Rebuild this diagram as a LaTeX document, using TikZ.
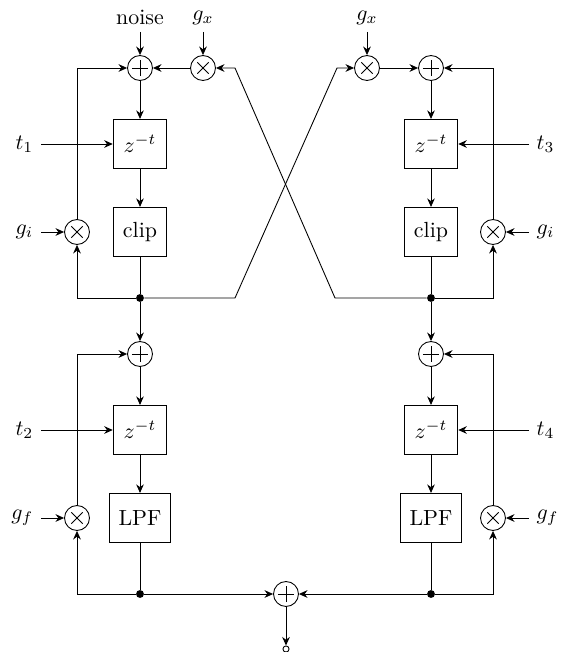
\documentclass[tikz,border=0pt]{standalone}
\usetikzlibrary{arrows.meta}
\begin{document}
\begin{tikzpicture}[x=0.4566pt,y=-0.4566pt,
  >={Stealth[length=3.9pt,width=3.5pt]},
  blk/.style={draw, minimum width=24.5pt, minimum height=22.5pt, inner sep=4pt},
  sumn/.style={draw, circle, minimum size=11.4pt, inner sep=0pt,
    path picture={
      \draw ([xshift=-3.7pt]path picture bounding box.center) -- ([xshift=3.7pt]path picture bounding box.center);
      \draw ([yshift=-3.7pt]path picture bounding box.center) -- ([yshift=3.7pt]path picture bounding box.center);}},
  muln/.style={draw, circle, minimum size=11.4pt, inner sep=0pt,
    path picture={
      \draw ([shift={(-2.6pt,-2.6pt)}]path picture bounding box.center) -- ([shift={(2.6pt,2.6pt)}]path picture bounding box.center);
      \draw ([shift={(-2.6pt,2.6pt)}]path picture bounding box.center) -- ([shift={(2.6pt,-2.6pt)}]path picture bounding box.center);}},
  jdot/.style={circle, fill, inner sep=0pt, minimum size=3.6pt},
  lbl/.style={inner sep=3.33pt}]
\useasboundingbox (0,0) rectangle (562,652);

% ---- upper left
\node[sumn] (a1) at (140,68) {};
\node[muln] (m1) at (203,68) {};
\node[blk] (z1) at (140,144) {$z^{-t}$};
\node[blk] (c1) at (140,232) {clip};
\node[muln] (gi1m) at (77,232) {};
\node[jdot] (d1) at (140,298) {};
% ---- upper right
\node[muln] (m2) at (367,68) {};
\node[sumn] (a2) at (431,68) {};
\node[blk] (z2) at (431,144) {$z^{-t}$};
\node[blk] (c2) at (431,232) {clip};
\node[muln] (gi2m) at (493,232) {};
\node[jdot] (d2) at (431,298) {};
% ---- crossing corners
\coordinate (p1) at (235,298);
\coordinate (p2) at (337,68);
\coordinate (p3) at (335,298);
\coordinate (p4) at (235,68);
% ---- lower left
\node[sumn] (a3) at (140,354) {};
\node[blk] (z3) at (140,430) {$z^{-t}$};
\node[blk] (l1) at (140,518) {LPF};
\node[muln] (gf1m) at (77,518) {};
\node[jdot] (d3) at (140,594) {};
% ---- lower right
\node[sumn] (a4) at (431,354) {};
\node[blk] (z4) at (431,430) {$z^{-t}$};
\node[blk] (l2) at (431,518) {LPF};
\node[muln] (gf2m) at (493,518) {};
\node[jdot] (d4) at (431,594) {};
% ---- output
\node[sumn] (a5) at (286,594) {};
\node[draw, circle, inner sep=0pt, minimum size=2.8pt] (out) at (286,649) {};

% ---- labels
\node[lbl, anchor=south] (noise) at (140,32) {noise};
\node[lbl, anchor=south] (gx1) at (203,32) {$g_x$};
\node[lbl, anchor=south] (gx2) at (367,32) {$g_x$};
\node[lbl, anchor=east] (t1) at (41,144) {$t_1$};
\node[lbl, anchor=east] (gil) at (41,232) {$g_i$};
\node[lbl, anchor=west] (t3) at (529,144) {$t_3$};
\node[lbl, anchor=west] (gir) at (529,232) {$g_i$};
\node[lbl, anchor=east] (t2) at (41,430) {$t_2$};
\node[lbl, anchor=east] (gfl) at (41,518) {$g_f$};
\node[lbl, anchor=west] (t4) at (529,430) {$t_4$};
\node[lbl, anchor=west] (gfr) at (529,518) {$g_f$};

% ---- upper left connections
\draw[->] (noise) -- (a1);
\draw[->] (gx1) -- (m1);
\draw[->] (m1) -- (a1);
\draw[->] (a1) -- (z1);
\draw[->] (z1) -- (c1);
\draw (c1) -- (d1);
\draw[->] (d1) -| (gi1m);
\draw[->] (gi1m) |- (a1);
\draw[->] (t1) -- (z1);
\draw[->] (gil) -- (gi1m);
% ---- upper right connections
\draw[->] (gx2) -- (m2);
\draw[->] (m2) -- (a2);
\draw[->] (a2) -- (z2);
\draw[->] (z2) -- (c2);
\draw (c2) -- (d2);
\draw[->] (d2) -| (gi2m);
\draw[->] (gi2m) |- (a2);
\draw[->] (t3) -- (z2);
\draw[->] (gir) -- (gi2m);
% ---- crossing
\draw[->] (d1) -- (p1) -- (p2) -- (m2);
\draw[->] (d2) -- (p3) -- (p4) -- (m1);
% ---- to lower stages
\draw[->] (d1) -- (a3);
\draw[->] (d2) -- (a4);
% ---- lower left
\draw[->] (a3) -- (z3);
\draw[->] (z3) -- (l1);
\draw (l1) -- (d3);
\draw[->] (d3) -| (gf1m);
\draw[->] (gf1m) |- (a3);
\draw[->] (t2) -- (z3);
\draw[->] (gfl) -- (gf1m);
% ---- lower right
\draw[->] (a4) -- (z4);
\draw[->] (z4) -- (l2);
\draw (l2) -- (d4);
\draw[->] (d4) -| (gf2m);
\draw[->] (gf2m) |- (a4);
\draw[->] (t4) -- (z4);
\draw[->] (gfr) -- (gf2m);
% ---- output
\draw[->] (d3) -- (a5);
\draw[->] (d4) -- (a5);
\draw[->] (a5) -- (out);
\end{tikzpicture}
\end{document}
